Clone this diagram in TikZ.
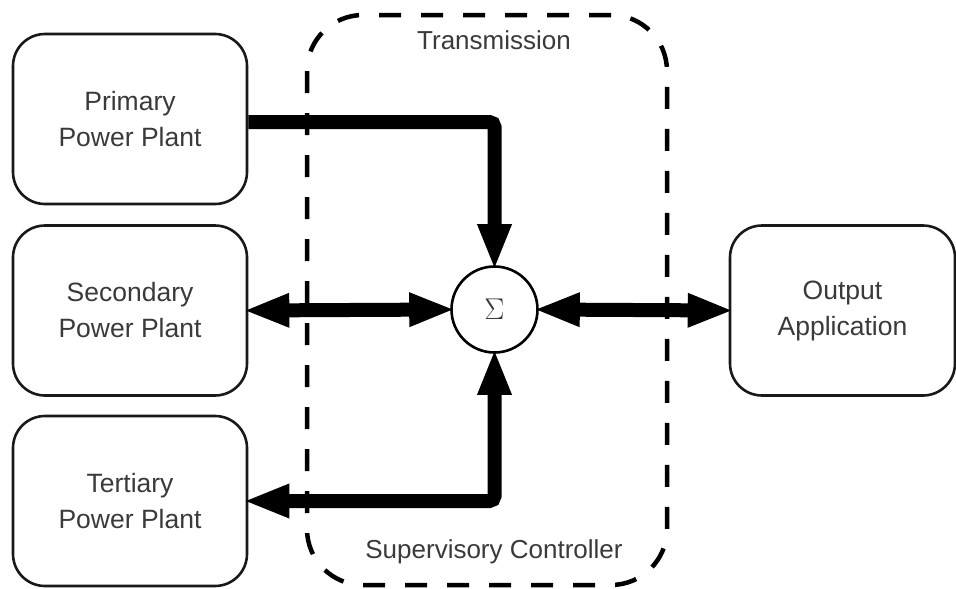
\documentclass[tikz,border=0pt]{standalone}
\usepackage{fontspec}
\setmainfont{Liberation Sans}
\usetikzlibrary{arrows.meta}
\definecolor{txt}{HTML}{3A3A3A}
\tikzset{
  plant/.style={draw=black!90, line width=2.6pt, rounded corners=32pt, minimum width=234pt, minimum height=170pt, align=center, text=txt, font=\fontsize{26.5}{36}\selectfont},
  flow/.style={line width=14pt, draw=black},
  tip/.style={-{Triangle[length=46pt,width=31pt]}, shorten >=-5pt},
  bitip/.style={{Triangle[length=46pt,width=31pt]}-{Triangle[length=46pt,width=31pt]}, shorten >=-5pt, shorten <=-5pt},
  lbl/.style={text=txt, font=\fontsize{26}{30}\selectfont}
}
\begin{document}
\begin{tikzpicture}[x=1pt,y=-1pt]
\useasboundingbox (0,0) rectangle (956,589);
\fill[white] (0,0) rectangle (956,589);
% container
\node[draw=black, line width=4.5pt, dash pattern=on 22pt off 20pt, rounded corners=56pt,
      minimum width=360pt, minimum height=570pt] (trans) at (487,300) {};
\node[lbl] (tlab) at (494,40) {Transmission};
\node[lbl] (slab) at (494,552) {Supervisory Controller};
% boxes
\node[plant] (prim) at (130,119) {Primary\\Power Plant};
\node[plant] (sec) at (130,310.5) {Secondary\\Power Plant};
\node[plant] (ter) at (130,501) {Tertiary\\Power Plant};
\node[plant, minimum width=225pt] (out) at (842.5,310.5) {Output\\Application};
\node[draw=black, line width=2.6pt, circle, minimum size=86pt, inner sep=0pt, text=txt,
      font=\fontsize{20.74}{24}\selectfont] (sig) at (494.5,309.5) {\scalebox{1.45}{$\Sigma$}};
% connectors
\draw[flow, tip, rounded corners=5pt] ([yshift=-3pt]prim.east) -| (sig.north);
\draw[flow, bitip] (sec.east) -- (sig.west);
\draw[flow, bitip] (sig.east) -- (out.west);
\draw[flow, bitip, rounded corners=5pt] (sig.south) |- (ter.east);
\end{tikzpicture}
\end{document}
